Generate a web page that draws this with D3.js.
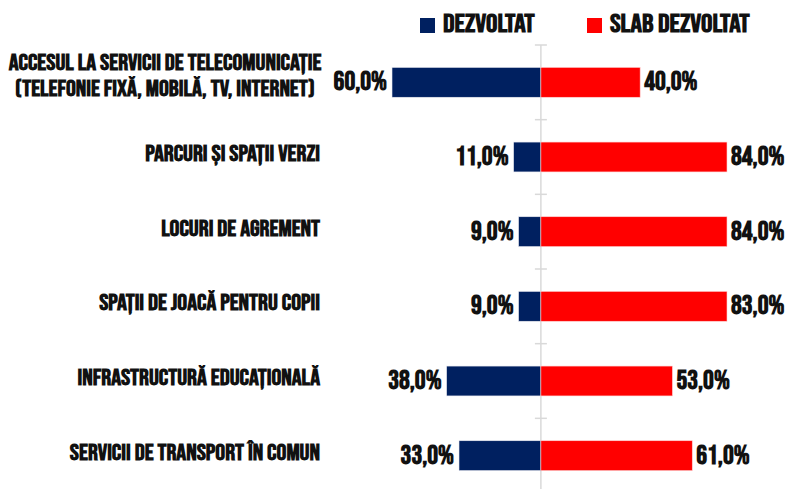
<!DOCTYPE html>
<html>

<head>
    <meta charset="utf-8">
    <style>
        body {
            margin: 0;
            background: #fff;
        }

        svg text {
            font-family: 'Bebas Neue', 'Liberation Sans Narrow', 'Arial Narrow', 'DejaVu Sans Condensed', sans-serif;
            font-weight: bold;
            fill: #111;
        }

        .axis line,
        .axis path {
            stroke: #d9d9d9;
            stroke-width: 1.5;
        }
    </style>
</head>

<body>
    <svg width="788" height="489"></svg>
</body>

<script src="https://d3js.org/d3.v7.min.js"></script>

<script>

    // data
    let categories = [
        ["ACCESUL LA SERVICII DE TELECOMUNICAȚIE", "(TELEFONIE FIXĂ, MOBILĂ, TV, INTERNET)"],
        ["PARCURI ȘI SPAȚII VERZI"],
        ["LOCURI DE AGREMENT"],
        ["SPAȚII DE JOACĂ PENTRU COPII"],
        ["INFRASTRUCTURĂ EDUCAȚIONALĂ"],
        ["SERVICII DE TRANSPORT ÎN COMUN"]
    ];
    let dezvoltat = [60, 11, 9, 9, 38, 33];
    let slabDezvoltat = [40, 84, 84, 83, 53, 61];
    let seriesNames = ["DEZVOLTAT", "SLAB DEZVOLTAT"];
    let colors = ["#002060", "#ff0000"];

    let svg = d3.select("svg");
    let fmt = v => d3.format(".1f")(v).replace(".", ",") + "%";

    let rows = categories.map((c, i) => ({
        key: i,
        label: c,
        left: dezvoltat[i],
        right: slabDezvoltat[i]
    }));

    // right side of the original axis stops at 75%, longer bars are cut there
    let x = d3.scaleLinear()
        .domain([-60, 75])
        .range([392, 727])
        .clamp(true);

    let y = d3.scaleBand()
        .domain(rows.map(d => d.key))
        .range([45, 493])
        .paddingInner(0.6)
        .paddingOuter(0.3);

    // centre axis with ticks between categories
    let axisG = svg.append("g").attr("class", "axis");
    axisG.append("line")
        .attr("x1", x(0)).attr("x2", x(0))
        .attr("y1", y.range()[0]).attr("y2", y.range()[1]);
    let bounds = d3.range(rows.length + 1).map(i => y.range()[0] + i * y.step());
    axisG.selectAll(".tick")
        .data(bounds)
        .join("line")
        .attr("class", "tick")
        .attr("x1", x(0) - 6).attr("x2", x(0) + 6)
        .attr("y1", d => d).attr("y2", d => d);

    let cy = d => y(d.key) + y.bandwidth() / 2;

    // bars
    svg.append("g").selectAll("rect")
        .data(rows)
        .join("rect")
        .attr("x", d => x(-d.left))
        .attr("y", d => y(d.key))
        .attr("width", d => x(0) - x(-d.left))
        .attr("height", y.bandwidth())
        .attr("fill", colors[0])
        .attr("stroke", "#e8eaf0")
        .attr("stroke-width", 0.6);

    svg.append("g").selectAll("rect")
        .data(rows)
        .join("rect")
        .attr("x", x(0))
        .attr("y", d => y(d.key))
        .attr("width", d => x(d.right) - x(0))
        .attr("height", y.bandwidth())
        .attr("fill", colors[1])
        .attr("stroke", "#ffd0d0")
        .attr("stroke-width", 0.6);

    // value labels
    svg.append("g").selectAll("text")
        .data(rows)
        .join("text")
        .attr("x", d => x(-d.left) - 5)
        .attr("y", d => cy(d) + 8)
        .attr("text-anchor", "end")
        .style("font-size", "27px")
        .text(d => fmt(d.left));

    svg.append("g").selectAll("text")
        .data(rows)
        .join("text")
        .attr("x", d => x(d.right) + 4)
        .attr("y", d => cy(d) + 8)
        .attr("text-anchor", "start")
        .style("font-size", "27px")
        .text(d => fmt(d.right));

    // category labels
    let catG = svg.append("g").selectAll("g")
        .data(rows)
        .join("g")
        .attr("transform", d => d.label.length > 1
            ? `translate(165,${cy(d)}) scale(1.07,1)`
            : `translate(320,${cy(d)}) scale(1.07,1)`);

    catG.each(function (d) {
        let g = d3.select(this);
        let multi = d.label.length > 1;
        d.label.forEach((line, j) => {
            g.append("text")
                .attr("x", 0)
                .attr("y", multi ? -12 + j * 26 : 4)
                .attr("text-anchor", multi ? "middle" : "end")
                .style("font-size", "23px")
                .text(line);
        });
    });

    // legend
    let legendX = [420, 587];
    let legend = svg.append("g").selectAll("g")
        .data(seriesNames)
        .join("g")
        .attr("transform", (d, i) => `translate(${legendX[i]},0)`);

    legend.append("rect")
        .attr("x", 0).attr("y", 18)
        .attr("width", 15).attr("height", 15)
        .attr("fill", (d, i) => colors[i]);

    legend.append("text")
        .attr("transform", `translate(23,32) scale(1.14,1)`)
        .style("font-size", "25px")
        .text(d => d);

</script>

</html>
